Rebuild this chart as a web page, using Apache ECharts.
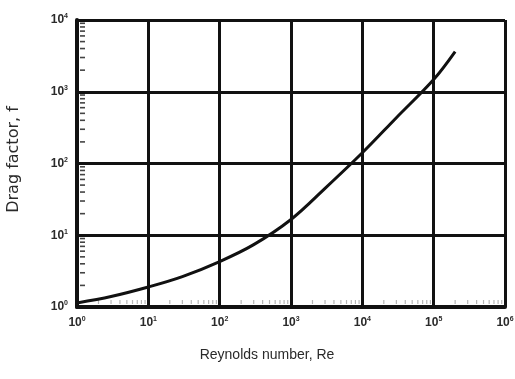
<!DOCTYPE html>
<html>
<head>
<meta charset="utf-8">
<script src="https://cdn.jsdelivr.net/npm/echarts@6/dist/echarts.min.js"></script>
<style>
  html, body { margin: 0; padding: 0; background: #fff; }
  #chart { width: 515px; height: 379px; }
</style>
</head>
<body>
<div id="chart"></div>
<script>
// Drag factor curve against Reynolds number (log-log)
const reynolds   = [1, 3, 10, 30, 100, 300, 1000, 3000, 10000, 30000, 100000, 200000];
const dragFactor = [1.14, 1.4, 1.9, 2.65, 4.3, 7.4, 16.6, 45, 141, 435, 1480, 3630];

// Decade tick labels, written as base^exponent
const xTickLabels = ['10^0', '10^1', '10^2', '10^3', '10^4', '10^5', '10^6'];
const yTickLabels = ['10^0', '10^1', '10^2', '10^3', '10^4'];

// Minor (2..9) tick positions inside each decade
const minorSteps = [2, 3, 4, 5, 6, 7, 8, 9];
const xDecades = [1, 10, 100, 1000, 10000, 100000];
const yDecades = [1, 10, 100, 1000];

const xMinor = [];
xDecades.forEach(d => minorSteps.forEach(m => xMinor.push([d * m, 1])));
const yMinor = [];
yDecades.forEach(d => minorSteps.forEach(m => yMinor.push([1, d * m])));

function powerLabel(labels) {
  return function (value) {
    const idx = Math.round(Math.log10(value));
    const parts = (labels[idx] || '').split('^');
    return '{b|' + parts[0] + '}{e|' + parts[1] + '}';
  };
}

const tickRich = {
  b: { fontSize: 12, fontWeight: 'bold', color: '#2a2a2a', fontFamily: 'Liberation Sans', lineHeight: 14 },
  e: { fontSize: 7, fontWeight: 'bold', color: '#2a2a2a', fontFamily: 'Liberation Sans', verticalAlign: 'top', lineHeight: 14 }
};

const chart = echarts.init(document.getElementById('chart'), null, { renderer: 'canvas' });

chart.setOption({
  backgroundColor: '#ffffff',
  animation: false,
  grid: { left: 77, right: 10, top: 20, bottom: 72, outerBoundsMode: 'none' },
  xAxis: {
    type: 'log',
    logBase: 10,
    min: 1,
    max: 1000000,
    name: 'Reynolds number, Re',
    nameLocation: 'middle',
    nameGap: 41,
    nameTextStyle: { fontSize: 14, color: '#2a2a2a', fontFamily: 'Liberation Sans', padding: [0, 48, 0, 0] },
    axisLine: { show: true, lineStyle: { color: '#111', width: 4 } },
    axisTick: { show: false },
    axisLabel: { margin: 9, formatter: powerLabel(xTickLabels), rich: tickRich },
    splitLine: { show: true, lineStyle: { color: '#111', width: 3 } },
    minorTick: { show: false },
    minorSplitLine: { show: false }
  },
  yAxis: {
    type: 'log',
    logBase: 10,
    min: 1,
    max: 10000,
    name: 'Drag factor, f',
    nameLocation: 'middle',
    nameGap: 55,
    nameTextStyle: { fontSize: 16, color: '#2a2a2a', fontFamily: 'DejaVu Sans', padding: [0, 0, 0, 8] },
    axisLine: { show: true, lineStyle: { color: '#111', width: 4 } },
    axisTick: { show: false },
    axisLabel: { margin: 9, formatter: powerLabel(yTickLabels), rich: tickRich },
    splitLine: { show: true, lineStyle: { color: '#111', width: 3 } },
    minorTick: { show: false },
    minorSplitLine: { show: false }
  },
  series: [
    {
      name: 'Drag factor',
      type: 'line',
      data: reynolds.map((re, i) => [re, dragFactor[i]]),
      showSymbol: false,
      smooth: 0.35,
      lineStyle: { color: '#111', width: 3 },
      z: 5
    },
    {
      // short marks along the inside of the left axis
      type: 'custom',
      data: yMinor,
      clip: false,
      silent: true,
      z: 4,
      renderItem: function (params, api) {
        const p = api.coord([api.value(0), api.value(1)]);
        return {
          type: 'line',
          shape: { x1: p[0] + 3, y1: p[1], x2: p[0] + 8, y2: p[1] },
          style: { stroke: '#444', lineWidth: 1.6 }
        };
      }
    },
    {
      // faint marks along the inside of the bottom axis
      type: 'custom',
      data: xMinor,
      clip: false,
      silent: true,
      z: 4,
      renderItem: function (params, api) {
        const p = api.coord([api.value(0), api.value(1)]);
        return {
          type: 'line',
          shape: { x1: p[0], y1: p[1] - 3, x2: p[0], y2: p[1] - 7 },
          style: { stroke: '#b5b5b5', lineWidth: 1.2 }
        };
      }
    }
  ]
});
</script>
</body>
</html>
